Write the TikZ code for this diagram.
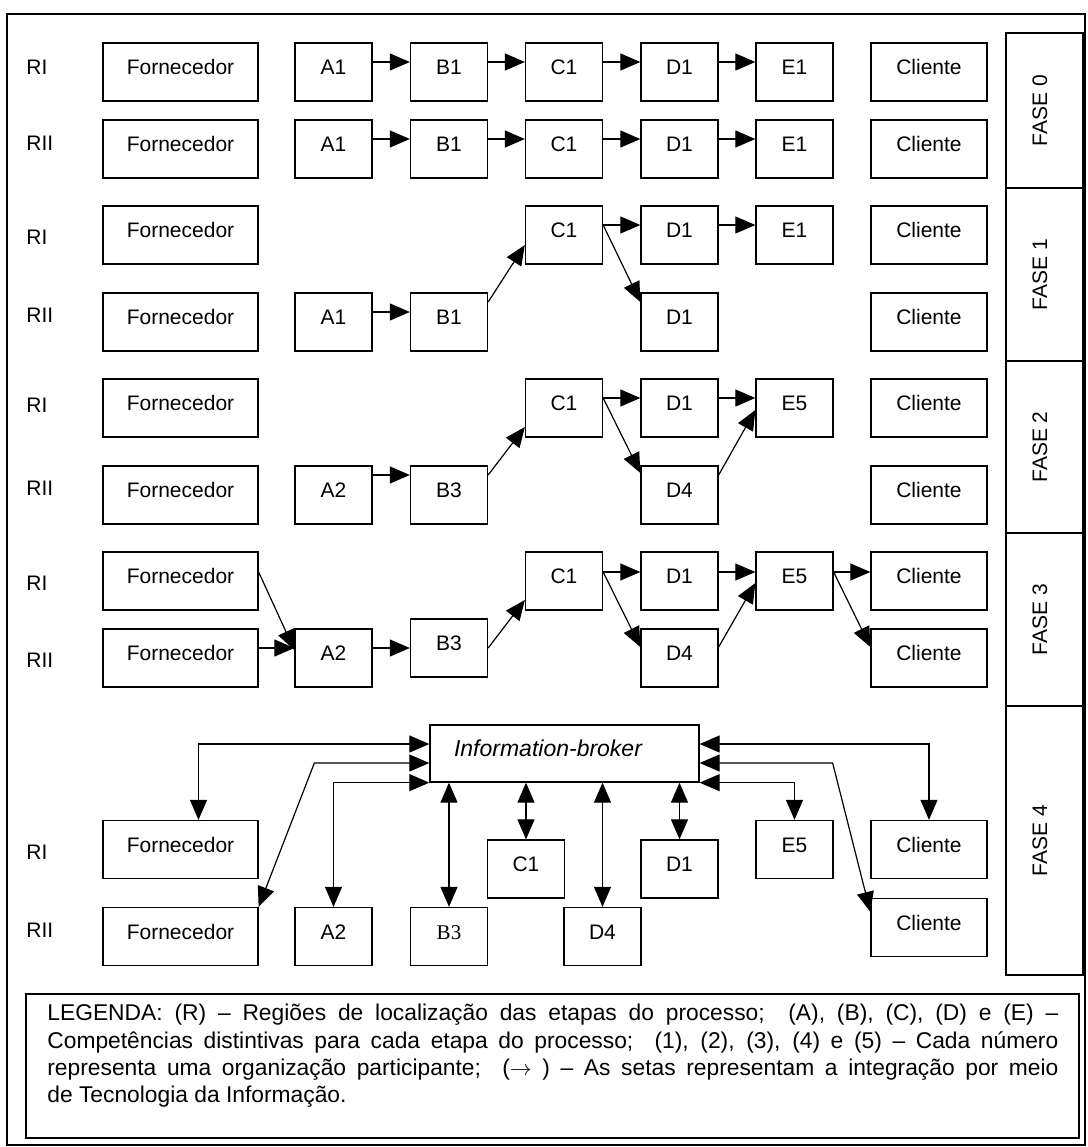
\documentclass[tikz,border=0pt]{standalone}
\usepackage{fontspec}
\setmainfont{Liberation Sans}
\newfontfamily\serifB{Liberation Serif}
\usetikzlibrary{arrows.meta,calc,positioning}
\newcommand\boxfont{\fontsize{10.5pt}{12pt}\selectfont}
\newcommand\legfont{\fontsize{11.4pt}{13.6pt}\selectfont}
\tikzset{
stage/.style={draw,line width=0.65pt,inner sep=0pt,minimum width=38.5pt,
  minimum height=29pt,text height=7.5pt,text depth=5pt,font=\boxfont},
forn/.style={stage,minimum width=77.5pt},
cli/.style={stage,minimum width=58pt},
fase/.style={draw,line width=0.65pt,rotate=90,inner sep=0pt,minimum height=38.5pt,
  text height=7.5pt,text depth=5pt,font=\boxfont},
lab/.style={anchor=west,inner sep=0pt,font=\boxfont},
arr/.style={-{Triangle[length=10pt,width=8.5pt]},line width=0.6pt},
darr/.style={{Triangle[length=10pt,width=8.5pt]}-{Triangle[length=10pt,width=8.5pt]},line width=0.6pt}
}
\begin{document}
\begin{tikzpicture}[x=0.5pt,y=-0.5pt]
\useasboundingbox (0,0) rectangle (1088,1147);
\draw[line width=0.65pt] (7,14) rectangle (1085,1145);
% phase column
\node[fase,minimum width=77.5pt] (P0) at (1044.5,110.5) {FASE 0};
\node[fase,minimum width=86.5pt] (P1) at (1044.5,274.5) {FASE 1};
\node[fase,minimum width=86pt] (P2) at (1044.5,447) {FASE 2};
\node[fase,minimum width=86.5pt] (P3) at (1044.5,619.5) {FASE 3};
\node[fase,minimum width=134.5pt] (P4) at (1044.5,840.5) {FASE 4};
% FASE 0
\node[lab] (L0I) at (26,67) {RI};
\node[lab] (L0II) at (26,143) {RII};
\node[forn] (F0I) at (180.5,72) {Fornecedor};
\node[stage] (A0I) at (333.5,72) {A1};
\node[stage] (B0I) at (449,72) {B1};
\node[stage] (C0I) at (564,72) {C1};
\node[stage] (D0I) at (679.5,72) {D1};
\node[stage] (E0I) at (794.5,72) {E1};
\node[cli] (K0I) at (929,72) {Cliente};
\node[forn] (F0II) at (180.5,149) {Fornecedor};
\node[stage] (A0II) at (333.5,149) {A1};
\node[stage] (B0II) at (449,149) {B1};
\node[stage] (C0II) at (564,149) {C1};
\node[stage] (D0II) at (679.5,149) {D1};
\node[stage] (E0II) at (794.5,149) {E1};
\node[cli] (K0II) at (929,149) {Cliente};
\foreach \s/\t in {A/B,B/C,C/D,D/E}{
  \draw[arr] ($(\s0I.east)+(0,-10)$) -- ($(\t0I.west)+(0,-10)$);
  \draw[arr] ($(\s0II.east)+(0,-10)$) -- ($(\t0II.west)+(0,-10)$);
}
% FASE 1
\node[lab] (L1I) at (26,237) {RI};
\node[lab] (L1II) at (26,315) {RII};
\node[forn] (F1I) at (180.5,235) {Fornecedor};
\node[stage] (C1I) at (564,235) {C1};
\node[stage] (D1I) at (679.5,235) {D1};
\node[stage] (E1I) at (794.5,235) {E1};
\node[cli] (K1I) at (929,235) {Cliente};
\node[forn] (F1II) at (180.5,322) {Fornecedor};
\node[stage] (A1II) at (333.5,322) {A1};
\node[stage] (B1II) at (449,322) {B1};
\node[stage] (D1II) at (679.5,322) {D1};
\node[cli] (K1II) at (929,322) {Cliente};
\draw[arr] ($(A1II.east)+(0,-10)$) -- ($(B1II.west)+(0,-10)$);
\draw[arr] ($(B1II.east)+(0,-20)$) -- ($(C1I.west)+(0,10)$);
\draw[arr] ($(C1I.east)+(0,-10)$) -- ($(D1I.west)+(0,-10)$);
\draw[arr] ($(D1I.east)+(0,-10)$) -- ($(E1I.west)+(0,-10)$);
\draw[arr] ($(C1I.east)+(0,-10)$) -- ($(D1II.west)+(0,-20)$);
% FASE 2
\node[lab] (L2I) at (26,405) {RI};
\node[lab] (L2II) at (26,488) {RII};
\node[forn] (F2I) at (180.5,408) {Fornecedor};
\node[stage] (C2I) at (564,408) {C1};
\node[stage] (D2I) at (679.5,408) {D1};
\node[stage] (E2I) at (794.5,408) {E5};
\node[cli] (K2I) at (929,408) {Cliente};
\node[forn] (F2II) at (180.5,495) {Fornecedor};
\node[stage] (A2II) at (333.5,495) {A2};
\node[stage] (B2II) at (449,495) {B3};
\node[stage] (D2II) at (679.5,495) {D4};
\node[cli] (K2II) at (929,495) {Cliente};
\draw[arr] ($(A2II.east)+(0,-20)$) -- ($(B2II.west)+(0,-20)$);
\draw[arr] ($(B2II.east)+(0,-20)$) -- ($(C2I.west)+(0,19)$);
\draw[arr] ($(C2I.east)+(0,-10)$) -- ($(D2I.west)+(0,-10)$);
\draw[arr] ($(C2I.east)+(0,-10)$) -- ($(D2II.west)+(0,-22)$);
\draw[arr] ($(D2I.east)+(0,-10)$) -- ($(E2I.west)+(0,-10)$);
\draw[arr] ($(D2II.east)+(0,-20)$) -- ($(E2I.west)+(0,2)$);
% FASE 3
\node[lab] (L3I) at (26,583) {RI};
\node[lab] (L3II) at (26,660) {RII};
\node[forn] (F3I) at (180.5,581) {Fornecedor};
\node[stage] (C3I) at (564,581) {C1};
\node[stage] (D3I) at (679.5,581) {D1};
\node[stage] (E3I) at (794.5,581) {E5};
\node[cli] (K3I) at (929,581) {Cliente};
\node[forn] (F3II) at (180.5,658) {Fornecedor};
\node[stage] (A3II) at (333.5,658) {A2};
\node[stage] (B3II) at (449,648) {B3};
\node[stage] (D3II) at (679.5,658) {D4};
\node[cli] (K3II) at (929,658) {Cliente};
\draw[arr] ($(F3I.east)+(0,-9)$) -- ($(A3II.west)+(0,-8)$);
\draw[arr] ($(F3II.east)+(0,-10)$) -- ($(A3II.west)+(0,-10)$);
\draw[arr] ($(A3II.east)+(0,-10)$) -- (B3II.west);
\draw[arr] (B3II.east) -- ($(C3I.west)+(0,19)$);
\draw[arr] ($(C3I.east)+(0,-9)$) -- ($(D3I.west)+(0,-9)$);
\draw[arr] ($(C3I.east)+(0,-9)$) -- ($(D3II.west)+(0,-11)$);
\draw[arr] ($(D3I.east)+(0,-9)$) -- ($(E3I.west)+(0,-9)$);
\draw[arr] ($(D3II.east)+(0,-11)$) -- ($(E3I.west)+(0,2)$);
\draw[arr] ($(E3I.east)+(0,-9)$) -- ($(K3I.west)+(0,-9)$);
\draw[arr] ($(E3I.east)+(0,-9)$) -- ($(K3II.west)+(0,-11)$);
% FASE 4
\node[stage,minimum width=134.5pt,minimum height=28.5pt] (IB) at (564.5,753.5)
  {{\fontsize{11.5pt}{13pt}\selectfont\itshape Information-broker}\hspace*{16.5pt}};
\node[lab] (L4I) at (26,852) {RI};
\node[lab] (L4II) at (26,930) {RII};
\node[forn] (F4I) at (180.5,849.5) {Fornecedor};
\node[stage] (C4I) at (526,869) {C1};
\node[stage] (D4I) at (679.5,869) {D1};
\node[stage] (E4I) at (794.5,849.5) {E5};
\node[cli] (K4I) at (929,849.5) {Cliente};
\node[forn] (F4II) at (180.5,936.5) {Fornecedor};
\node[stage] (A4II) at (333.5,936.5) {A2};
\node[stage] (B4II) at (449,936.5) {\serifB B3};
\node[stage] (D4II) at (602.5,936.5) {D4};
\node[cli] (K4II) at (929,927.5) {Cliente};
\draw[darr] ($(IB.west)+(0,-9.5)$) -| ($(F4I.north)+(18,0)$);
\draw[darr] ($(IB.west)+(0,9.5)$) -- ($(IB.west)+(-115,9.5)$) -- (F4II.north east);
\draw[darr] (IB.south west) -| (A4II.north);
\draw[darr] (IB.south -| B4II.north) -- (B4II.north);
\draw[darr] (IB.south -| C4I.north) -- (C4I.north);
\draw[darr] (IB.south -| D4II.north) -- (D4II.north);
\draw[darr] (IB.south -| D4I.north) -- (D4I.north);
\draw[darr] (IB.south east) -| (E4I.north);
\draw[darr] ($(IB.east)+(0,-9.5)$) -| (K4I.north);
\draw[darr] ($(IB.east)+(0,9.5)$) -- ($(IB.east)+(133,9.5)$) -- ($(K4II.north west)+(0,14)$);
% legend
\node[draw,line width=0.65pt,minimum width=526.5pt,minimum height=72pt] (LGbox) at (552.5,1066) {};
\node[anchor=north west,inner sep=0pt,text width=505.5pt,align=justify,font=\legfont] (LG)
  at (47,1004) {LEGENDA: (R) – Regiões de localização das etapas do processo;\ \ (A), (B), (C), (D) e (E) –\linebreak
  Competências distintivas para cada etapa do processo;\ \ (1), (2), (3), (4) e (5) – Cada número\linebreak
  representa uma organização participante;\ \ ($\rightarrow$ ) – As setas representam a integração por meio\linebreak
  de Tecnologia da Informação.};
\end{tikzpicture}
\end{document}
